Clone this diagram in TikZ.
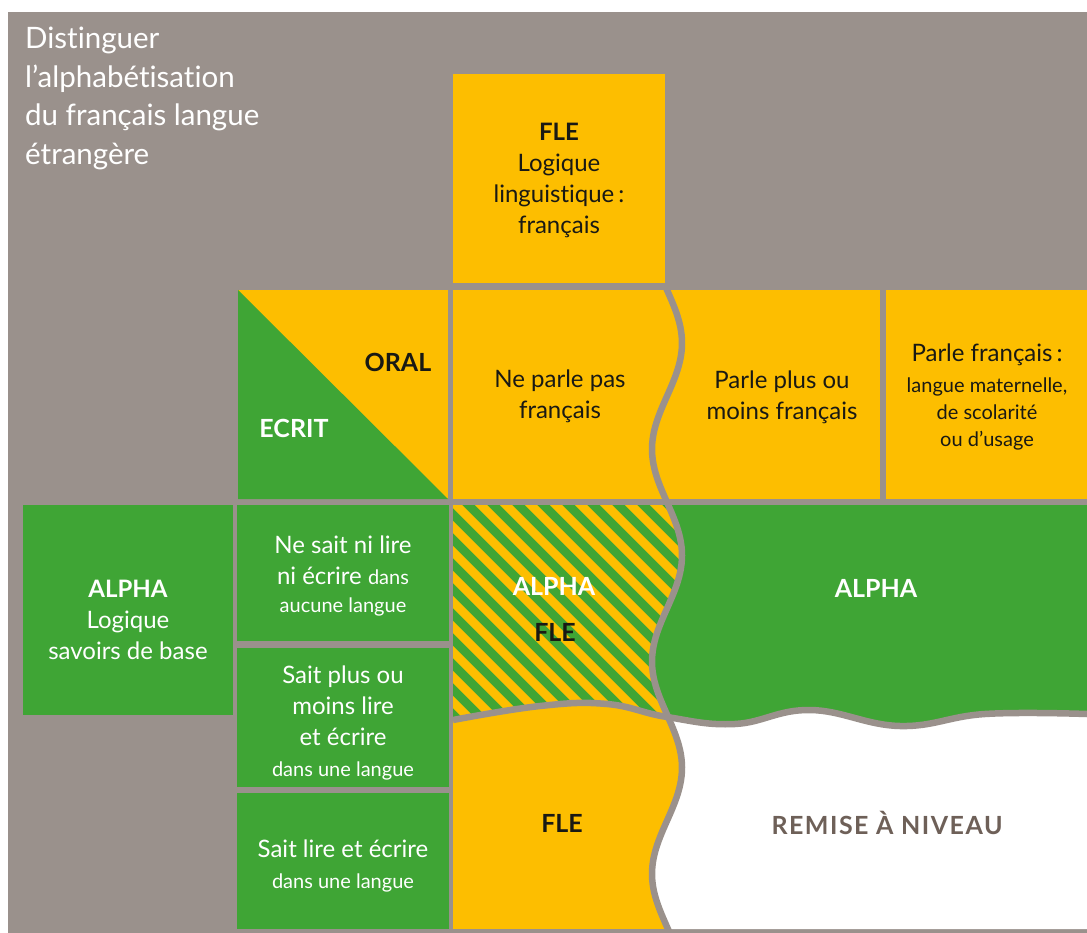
\documentclass[tikz,border=0pt]{standalone}
\usepackage{fontspec}
\setmainfont[Ligatures=NoCommon]{Lato}
\usepackage{xcolor}
\usetikzlibrary{positioning}

\definecolor{fond}{RGB}{154,145,140}
\definecolor{jaune}{RGB}{253,190,0}
\definecolor{vert}{RGB}{63,165,53}
\definecolor{brun}{RGB}{110,96,88}
\definecolor{noir}{RGB}{25,25,20}

\newcommand\petit{\fontsize{20}{27}\selectfont}

\begin{document}
\begin{tikzpicture}[
          x=1pt, y=-1pt,
          declare function={ondex(\t)=667+15*sin(1.69571*(\t-290));},
          sep/.style={draw=fond, line width=6.5pt},
          lbl/.style={inner sep=0pt, align=center, text=noir, font=\fontsize{24}{31}\selectfont},
          gras/.style={lbl, font=\fontsize{25}{31}\selectfont\bfseries},
          titre/.style={lbl, align=left, text=white, font=\fontsize{29.5}{38.5}\selectfont}
      ]
        \useasboundingbox (0,0) rectangle (1087,933);
        \fill[fond] (8,12) rectangle (1087,933);

        \fill[jaune] (453,74) rectangle (665,283);
        \fill[jaune] (238,290) rectangle (448,499);
        \fill[vert] (238,290) -- (238,499) -- (448,499) -- cycle;

        \fill[vert] (23,505) rectangle (233,715);
        \fill[vert] (237,505) rectangle (449,641);
        \fill[vert] (237,648) rectangle (449,787);
        \fill[vert] (237,793) rectangle (449,929);

        \fill[jaune] (453,290) rectangle (1087,929);
        % zone hachuree ALPHA / FLE
        \begin{scope}
          \clip (453,502) -- plot[domain=502:929, samples=120] ({ondex(\x)}, \x) -- (453,929) -- cycle;
          \clip (453,502) -- plot[smooth, tension=0.7] coordinates {(453,720) (540,706) (607,704) (667,717) (735,724) (810,710) (900,726) (985,714) (1087,714)} -- (1087,502) -- cycle;
          \fill[vert] (453,502) rectangle (700,740);
          \foreach \k in {-10,...,10}
            \draw[jaune, line width=8.8pt] (353,402+25*\k) -- ++(400,400);
        \end{scope}
        % ALPHA et remise a niveau
        \begin{scope}
          \clip (1087,502) -- plot[domain=502:929, samples=120] ({ondex(\x)}, \x) -- (1087,929) -- cycle;
          \fill[vert] (600,502) rectangle (1087,929);
          \fill[white] (600,929) -- plot[smooth, tension=0.7] coordinates {(453,720) (540,706) (607,704) (667,717) (735,724) (810,710) (900,726) (985,714) (1087,714)} -- (1087,929) -- cycle;
        \end{scope}

        \draw[sep] (451,502) -- (1087,502);
        \draw[sep] (883,290) -- (883,502);
        \draw[sep] plot[domain=288:931, samples=150] ({ondex(\x)}, \x);
        \draw[sep] plot[smooth, tension=0.7] coordinates {(453,720) (540,706) (607,704) (667,717) (735,724) (810,710) (900,726) (985,714) (1087,714)};

        \node[titre, anchor=north west] (titre) at (25,27) {Distinguer\\l’alphabétisation\\du français langue\\étrangère};
        \node[lbl] (fle) at (559,180) {\textbf{FLE}\\Logique\\linguistique\,:\\français};
        \node[gras] (oral) at (398,362) {ORAL};
        \node[gras, text=white] (ecrit) at (294,428) {ECRIT};
        \node[lbl] (nepas) at (560,396) {Ne parle pas\\français};
        \node[lbl] (plusmoins) at (782,397) {Parle plus ou\\moins français};
        \node[lbl] (parle) at (987,397) {Parle français\,:\\{\petit langue maternelle,}\\[-4pt]{\petit de scolarité}\\[-4pt]{\petit ou d’usage}};
        \node[lbl, text=white] (alpha) at (128,620) {\textbf{ALPHA}\\Logique\\savoirs de base};
        \node[lbl, text=white] (nisait) at (343,576) {Ne sait ni lire\\ni écrire {\petit dans}\\[-3pt]{\petit aucune langue}};
        \node[lbl, text=white] (saitplus) at (343,723) {Sait plus ou\\moins lire\\et écrire\\{\petit dans une langue}};
        \node[lbl, text=white] (sait) at (343,866) {Sait lire et écrire\\{\petit dans une langue}};
        \node[gras, text=white] (alphah) at (554,586) {ALPHA};
        \node[gras] (fleh) at (555,632) {FLE};
        \node[gras, text=white] (alphav) at (876,588) {ALPHA};
        \node[gras] (flebas) at (562,823) {FLE};
        \node[gras, text=brun] (remise) at (887,823) {\addfontfeatures{LetterSpace=6}REMISE À NIVEAU};
      \end{tikzpicture}
\end{document}
